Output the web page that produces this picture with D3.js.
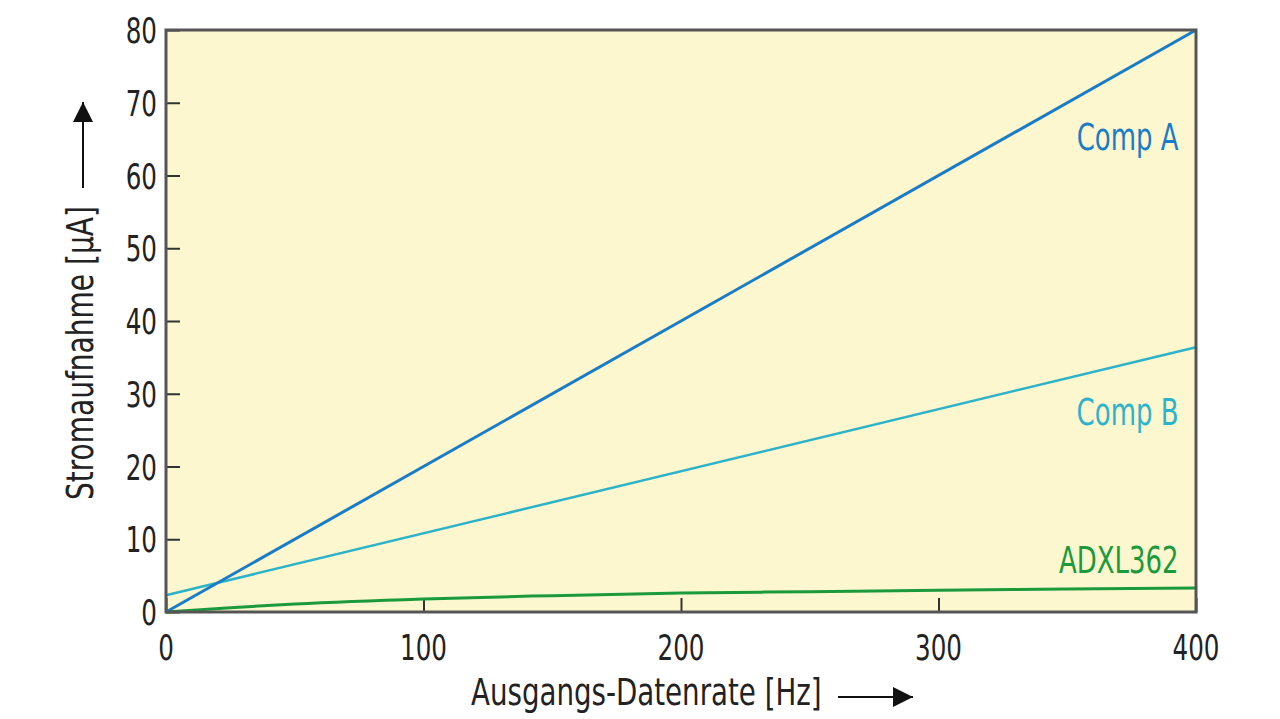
<!DOCTYPE html>
<html><head><meta charset="utf-8">
<script src="https://cdn.jsdelivr.net/npm/d3@7"></script>
<style>
html,body{margin:0;padding:0;background:#fff;}
svg{display:block;}
text{font-family:"DejaVu Sans Condensed","Liberation Sans Narrow",sans-serif;}
</style></head>
<body>
<svg id="chart" width="1280" height="719"></svg>
<script>
const xTicks = [0, 100, 200, 300, 400];
const yTicks = [0, 10, 20, 30, 40, 50, 60, 70, 80];
const compA = [[0, 0], [400, 80]];
const compB = [[0, 2.3], [400, 36.4]];
const adxl = [[0, 0], [25, 0.6], [50, 1.1], [100, 1.8], [150, 2.25], [200, 2.6], [250, 2.8], [300, 3.0], [350, 3.15], [400, 3.3]];
const seriesNames = ["Comp A", "Comp B", "ADXL362"];
const xTitle = "Ausgangs-Datenrate [Hz]";
const yTitle = "Stromaufnahme [µA]";

const svg = d3.select("#chart");
const L = 166, R = 1196, T = 30, B = 612;
const x = d3.scaleLinear().domain([0, 400]).range([L, R]);
const y = d3.scaleLinear().domain([0, 80]).range([B, T]);
const SX = 0.76;

svg.append("defs").append("marker").attr("id", "arr")
  .attr("viewBox", "0 0 10 10").attr("refX", 10).attr("refY", 5)
  .attr("markerWidth", 24).attr("markerHeight", 20).attr("markerUnits", "userSpaceOnUse")
  .attr("orient", "auto")
  .append("path").attr("d", "M0,0 L10,5 L0,10 Z").attr("fill", "#111");

svg.append("rect").attr("x", L).attr("y", T).attr("width", R - L).attr("height", B - T)
  .attr("fill", "#fdf7d0");

// ticks inward
const gy = svg.append("g").attr("transform", `translate(${L},0)`)
  .call(d3.axisRight(y).tickValues(yTicks).tickSize(14).tickFormat(""));
gy.select(".domain").remove();
gy.selectAll("line").attr("stroke", "#333").attr("stroke-width", 2);
const gx = svg.append("g").attr("transform", `translate(0,${B})`)
  .call(d3.axisTop(x).tickValues(xTicks).tickSize(14).tickFormat(""));
gx.select(".domain").remove();
gx.selectAll("line").attr("stroke", "#333").attr("stroke-width", 2);

// tick labels
svg.append("g").selectAll("text").data(yTicks).join("text")
  .attr("transform", d => `translate(${L - 9},${y(d) + 13}) scale(${SX},1)`)
  .attr("text-anchor", "end")
  .attr("font-size", 36).attr("fill", "#222").text(d => d);
svg.append("g").selectAll("text").data(xTicks).join("text")
  .attr("transform", d => `translate(${x(d)},${B + 48}) scale(${SX},1)`)
  .attr("text-anchor", "middle")
  .attr("font-size", 36).attr("fill", "#222").text(d => d);

const line = d3.line().x(d => x(d[0])).y(d => y(d[1]));
const lineC = d3.line().x(d => x(d[0])).y(d => y(d[1])).curve(d3.curveMonotoneX);
svg.append("path").datum(compB).attr("d", line).attr("fill", "none").attr("stroke", "#2cb3c9").attr("stroke-width", 2.5);
svg.append("path").datum(compA).attr("d", line).attr("fill", "none").attr("stroke", "#1a7cc6").attr("stroke-width", 3);
svg.append("path").datum(adxl).attr("d", lineC).attr("fill", "none").attr("stroke", "#1a9a3c").attr("stroke-width", 3);

// frame
svg.append("rect").attr("x", L).attr("y", T).attr("width", R - L).attr("height", B - T)
  .attr("fill", "none").attr("stroke", "#555").attr("stroke-width", 3);

// series labels
const labs = [
  {t: seriesNames[0], v: 63.5, c: "#1a7cc6"},
  {t: seriesNames[1], v: 25.7, c: "#2cb3c9"},
  {t: seriesNames[2], v: 5.36, c: "#1a9a3c"}
];
svg.append("g").selectAll("text").data(labs).join("text")
  .attr("transform", d => `translate(${x(393.2)},${y(d.v)}) scale(${SX},1)`)
  .attr("text-anchor", "end")
  .attr("font-size", 38).attr("fill", d => d.c).text(d => d.t);

// axis titles
svg.append("text").attr("transform", `translate(471,705) scale(0.81,1)`)
  .attr("font-size", 38).attr("fill", "#222").text(xTitle);
svg.append("line").attr("x1", 838).attr("y1", 697).attr("x2", 913).attr("y2", 697)
  .attr("stroke", "#111").attr("stroke-width", 2).attr("marker-end", "url(#arr)");

svg.append("text").attr("transform", "translate(93,500) rotate(-90) scale(0.82,1)")
  .attr("font-size", 38).attr("fill", "#222").text(yTitle);
svg.append("line").attr("x1", 83).attr("y1", 188).attr("x2", 83).attr("y2", 102)
  .attr("stroke", "#111").attr("stroke-width", 2).attr("marker-end", "url(#arr)");
</script>
</body></html>
